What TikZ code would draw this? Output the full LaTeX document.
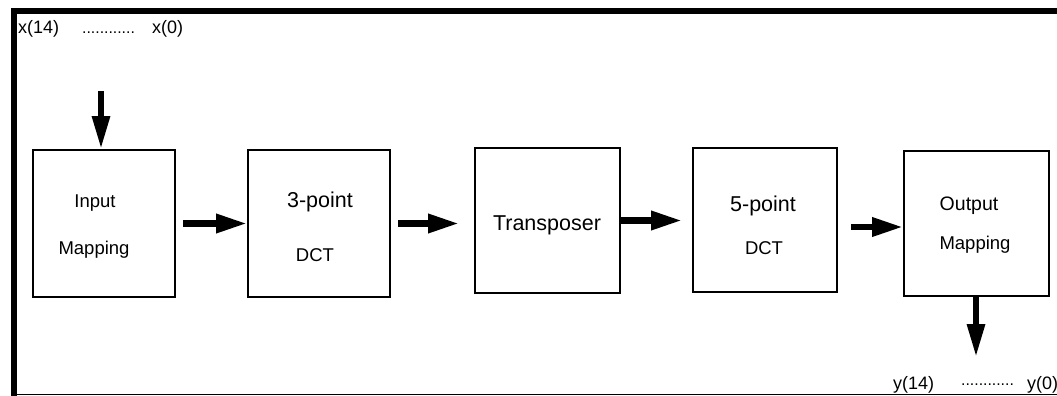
\documentclass[tikz,border=0pt]{standalone}
\usepackage{fontspec}
\setmainfont{Liberation Sans}
\usetikzlibrary{arrows.meta}
\begin{document}
\begin{tikzpicture}[x=1pt,y=-1pt,
  blk/.style={draw, line width=2pt, inner sep=0pt},
  txt/.style={inner sep=0pt, anchor=base},
  big/.style={font=\fontsize{21.5}{25}\selectfont},
  mid/.style={font=\fontsize{18.5}{22}\selectfont},
  flow/.style={line width=6.5pt, -{Triangle[length=31pt 0, width=18pt 0]}},
  vflow/.style={line width=6pt, -{Triangle[length=33pt 0, width=17pt 0]}},
  lbl/.style={inner sep=0pt, font=\fontsize{18}{21}\selectfont},
  dots/.style={inner sep=0pt, font=\fontsize{15.8}{19}\selectfont}]
\useasboundingbox (0,0) rectangle (1057,396);
% frame
\draw[line width=6pt] (13.5,396) -- (13.5,11) -- (1057,11);
\draw[line width=1.5pt] (16,394.5) -- (1057,394.5);
% boxes
\node[blk, minimum width=142pt, minimum height=147pt] (b1) at (104,223.5) {};
\node[blk, minimum width=142pt, minimum height=147pt] (b2) at (319,223.5) {};
\node[blk, minimum width=145pt, minimum height=145pt] (b3) at (547.5,220.5) {};
\node[blk, minimum width=144pt, minimum height=144pt] (b4) at (765,220) {};
\node[blk, minimum width=145pt, minimum height=145pt] (b5) at (976.5,223.5) {};
% box texts
\node[txt, mid] (t1a) at (95,207) {Input};
\node[txt, mid] (t1b) at (94,254) {Mapping};
\node[txt, big] (t2a) at (320,207) {3-point};
\node[txt, mid] (t2b) at (315,261) {DCT};
\node[txt, big] (t3) at (547,230) {Transposer};
\node[txt, big] (t4a) at (763,211) {5-point};
\node[txt, mid] (t4b) at (764,254) {DCT};
\node[txt, font=\fontsize{19.5}{23}\selectfont] (t5a) at (969,210) {Output};
\node[txt, mid] (t5b) at (975,249) {Mapping};
% connectors
\draw[flow, shorten <=7pt] (b1.east) -- (b2.west);
\draw[flow, shorten <=7pt, shorten >=15pt] (b2.east) -- (b2.east -| b3.west);
\draw[flow, shorten >=10pt] (b3.east) -- (b3.east -| b4.west);
\coordinate (a4) at ([yshift=-3.5pt]b5.west);
\draw[flow, shorten <=13pt] (a4 -| b4.east) -- (a4);
\coordinate (in) at (101,91);
\draw[vflow] (in) -- (in |- b1.north);
\coordinate (out) at (976,357);
\draw[vflow] (out |- b5.south) -- (out);
% labels
\node[lbl, anchor=west] (x14) at (18,29) {x(14)};
\node[dots, anchor=base west] (xd) at (82,33.5) {............};
\node[lbl, anchor=west] (x0) at (152,29) {x(0)};
\node[lbl, anchor=west] (y14) at (893,384.5) {y(14)};
\node[dots, anchor=base west] (yd) at (961,385.5) {............};
\node[lbl, anchor=west] (y0) at (1027,384.5) {y(0)};
\end{tikzpicture}
\end{document}
